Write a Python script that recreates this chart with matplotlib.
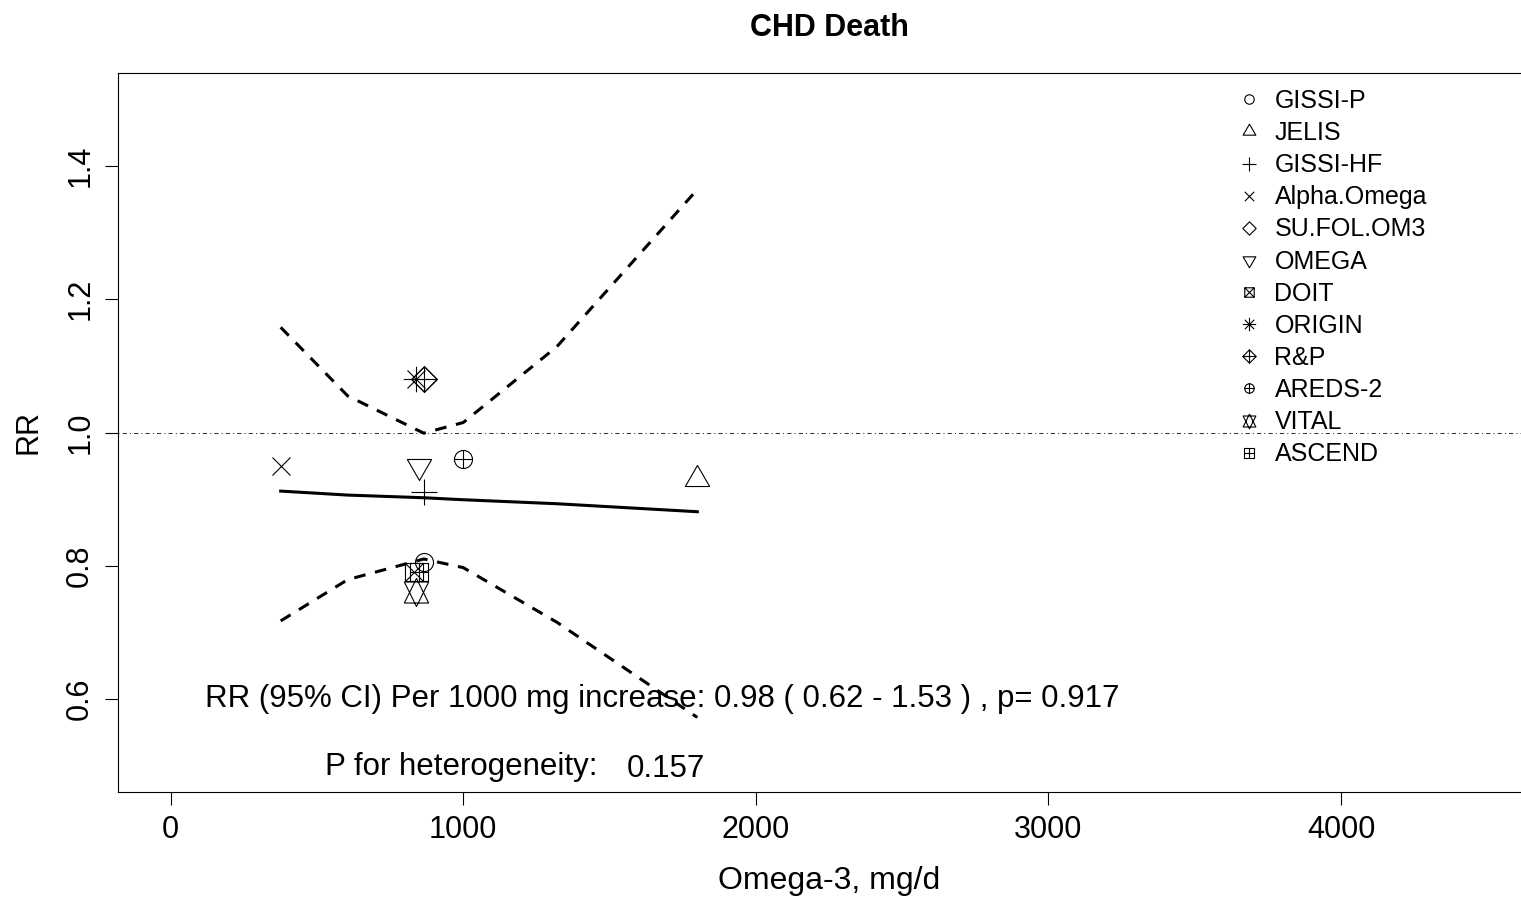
"""CHD death: dose-response of omega-3 dose vs RR, with study symbols."""
import numpy as np
import matplotlib
matplotlib.use("Agg")
import matplotlib.pyplot as plt
from matplotlib.lines import Line2D
from matplotlib.path import Path

plt.rcParams.update({
    "font.family": ["Liberation Sans", "DejaVu Sans"],
    "font.size": 22,
    "axes.linewidth": 0.8,
})

# ----- data -----
STUDIES = ["GISSI-P", "JELIS", "GISSI-HF", "Alpha.Omega", "SU.FOL.OM3", "OMEGA",
           "DOIT", "ORIGIN", "R&P", "AREDS-2", "VITAL", "ASCEND"]
DOSE = [865, 1800, 865, 376, 865, 850, 830, 840, 865, 1000, 840, 850]
RR = [0.805, 0.93, 0.91, 0.95, 1.08, 0.95, 0.79, 1.08, 1.08, 0.96, 0.76, 0.79]
PCH = [1, 2, 3, 4, 5, 6, 7, 8, 9, 10, 11, 12]

CURVE_DOSE = [376, 605, 865, 1000, 1320, 1800]
CURVE_FIT = [0.912, 0.906, 0.902, 0.899, 0.893, 0.881]
CURVE_LO = [0.717, 0.779, 0.810, 0.797, 0.715, 0.572]
CURVE_HI = [1.158, 1.055, 0.999, 1.015, 1.129, 1.365]

XTICKS = [0, 1000, 2000, 3000, 4000]
YTICKS = [0.6, 0.8, 1.0, 1.2, 1.4]

TXT_TREND = "RR (95% CI) Per 1000 mg increase: 0.98 ( 0.62 - 1.53 ) , p= 0.917"
TXT_HET = "P for heterogeneity:"
TXT_HET_P = "0.157"


# ----- R-style pch symbols as marker paths (unit = symbol radius) -----
def poly(pts, closed=False):
    verts = list(pts)
    codes = [Path.MOVETO] + [Path.LINETO] * (len(pts) - 1)
    if closed:
        verts.append(pts[0])
        codes.append(Path.CLOSEPOLY)
    return Path(verts, codes)


S2 = np.sqrt(2)
T0, T1, T2 = 1.5551, 1.3468, 0.7776
T3 = 0.5 * (T2 + T0)


def plus(r):
    return [poly([(-r, 0), (r, 0)]), poly([(0, -r), (0, r)])]


def cross(r):
    return [poly([(-r, -r), (r, r)]), poly([(-r, r), (r, -r)])]


def square(r):
    return [poly([(-r, -r), (r, -r), (r, r), (-r, r)], True)]


def diamond(r):
    return [poly([(0, r), (r, 0), (0, -r), (-r, 0)], True)]


def circle(r):
    return [Path.circle((0, 0), r)]


SYMBOLS = {
    1: circle(1),
    2: [poly([(0, T0), (T1, -T2), (-T1, -T2)], True)],
    3: plus(S2),
    4: cross(1),
    5: diamond(S2),
    6: [poly([(0, -T0), (T1, T2), (-T1, T2)], True)],
    7: square(1) + cross(1),
    8: cross(1) + plus(S2),
    9: diamond(S2) + plus(S2),
    10: circle(1) + plus(1),
    11: [poly([(0, -T0), (T1, T3), (-T1, T3)], True),
         poly([(0, T0), (T1, -T3), (-T1, -T3)], True)],
    12: square(1) + plus(1),
}


def marker(pch, unit):
    path = Path.make_compound_path(*SYMBOLS[pch])
    ms = 2 * np.abs(path.vertices).max() * unit
    return path, ms


PLOT_UNIT = 6.5   # points
LEG_UNIT = 3.4

# ----- figure -----
W, H = 1521, 899
fig = plt.figure(figsize=(W / 100, H / 100), dpi=100)
ax = fig.add_axes([118 / W, 1 - 792 / H, (1540 - 118) / W, (792 - 73) / H])

ax.axhline(1.0, color="#333333", lw=0.75, ls=(0, (1, 3, 4, 3)))
ax.plot(CURVE_DOSE, CURVE_FIT, color="black", lw=2.2)
ax.plot(CURVE_DOSE, CURVE_LO, color="black", lw=2.2, ls=(0, (3.8, 3.2)))
ax.plot(CURVE_DOSE, CURVE_HI, color="black", lw=2.2, ls=(0, (3.8, 3.2)))

for x, y, p in zip(DOSE, RR, PCH):
    path, ms = marker(p, PLOT_UNIT)
    ax.plot([x], [y], ls="none", marker=path, ms=ms, mfc="none",
            mec="black", mew=0.8)

ax.text(1680, 0.6, TXT_TREND, ha="center", va="center", fontsize=22.5)
ax.text(993, 0.497, TXT_HET, ha="center", va="center", fontsize=22.5)
ax.text(1692, 0.494, TXT_HET_P, ha="center", va="center", fontsize=22.5)

ax.set_xlim(-180, 4680)
ax.set_ylim(0.46, 1.54)
ax.set_xticks(XTICKS)
ax.set_yticks(YTICKS)
ax.tick_params(direction="out", length=9.4, width=0.8, labelsize=22, pad=7)
plt.setp(ax.get_yticklabels(), rotation=90, va="center")

ax.set_title("CHD Death", fontweight="bold", fontsize=22, pad=27)
ax.set_xlabel("Omega-3, mg/d", fontsize=23, labelpad=15.5)
ax.set_ylabel("RR", fontsize=22, labelpad=15.5)

handles = []
for p in PCH:
    path, ms = marker(p, LEG_UNIT)
    handles.append(Line2D([], [], ls="none", marker=path, ms=ms, mfc="none",
                          mec="black", mew=0.8))
ax.legend(handles, STUDIES, loc="upper left",
          bbox_to_anchor=(1236 / W, 1 - 89 / H), bbox_transform=fig.transFigure,
          frameon=False, fontsize=18, handlelength=1.0, handletextpad=0.54,
          labelspacing=0.325, borderpad=0, borderaxespad=0, numpoints=1)

fig.savefig("out.png", dpi=100)
